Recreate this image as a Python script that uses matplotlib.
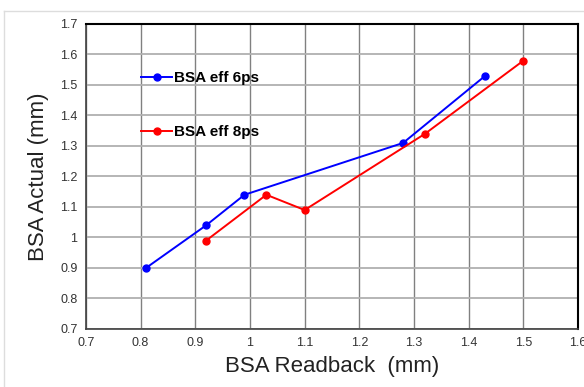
import matplotlib.pyplot as plt
from matplotlib.lines import Line2D

# readback vs actual values
x_6ps = [0.81, 0.92, 0.99, 1.28, 1.43]
y_6ps = [0.90, 1.04, 1.14, 1.31, 1.53]
x_8ps = [0.92, 1.03, 1.10, 1.32, 1.50]
y_8ps = [0.99, 1.14, 1.09, 1.34, 1.58]

xticks = [0.7, 0.8, 0.9, 1.0, 1.1, 1.2, 1.3, 1.4, 1.5, 1.6]
xlabels = ['0.7', '0.8', '0.9', '1', '1.1', '1.2', '1.3', '1.4', '1.5', '1.6']
yticks = [0.7, 0.8, 0.9, 1.0, 1.1, 1.2, 1.3, 1.4, 1.5, 1.6, 1.7]
ylabels = ['0.7', '0.8', '0.9', '1', '1.1', '1.2', '1.3', '1.4', '1.5', '1.6', '1.7']

plt.rcParams['font.family'] = ['Liberation Sans', 'DejaVu Sans']

fig = plt.figure(figsize=(5.84, 3.87), dpi=100)
ax = fig.add_axes([0.147, 0.150, 0.843, 0.788])

ax.plot(x_6ps, y_6ps, color='#0000ff', lw=1.4, marker='o', ms=5, label='BSA eff 6ps')
ax.plot(x_8ps, y_8ps, color='#ff0000', lw=1.4, marker='o', ms=5, label='BSA eff 8ps')

ax.set_xlim(0.7, 1.6)
ax.set_ylim(0.7, 1.7)
ax.set_xticks(xticks)
ax.set_xticklabels(xlabels)
ax.set_yticks(yticks)
ax.set_yticklabels(ylabels)
ax.tick_params(length=0, labelsize=9, labelcolor='#333333', pad=6)
ax.grid(True, axis='x', color='#808080', lw=1)
ax.grid(True, axis='y', color='#b0b0b0', lw=1.3)
ax.set_axisbelow(True)
for s in ['left', 'bottom']:
    ax.spines[s].set_color('#404040')
    ax.spines[s].set_linewidth(1.2)
for s in ['top', 'right']:
    ax.spines[s].set_color('black')
    ax.spines[s].set_linewidth(1.5)

ax.set_xlabel('BSA Readback  (mm)', fontsize=16, color='#222222', labelpad=5)
ax.set_ylabel('BSA Actual (mm)', fontsize=16, color='#222222', labelpad=8)

leg = ax.legend(loc='upper left', bbox_to_anchor=(0.085, 0.89), frameon=False,
                labelspacing=2.6, handlelength=2.0, handletextpad=0.15,
                prop={'weight': 'bold', 'size': 11})

# light border of the original chart area
fig.add_artist(Line2D([0.006, 1.0], [0.972, 0.972], color='#dddddd', lw=1))
fig.add_artist(Line2D([0.006, 0.006], [0.0, 0.972], color='#dddddd', lw=1))

fig.savefig('out.png', dpi=100)
